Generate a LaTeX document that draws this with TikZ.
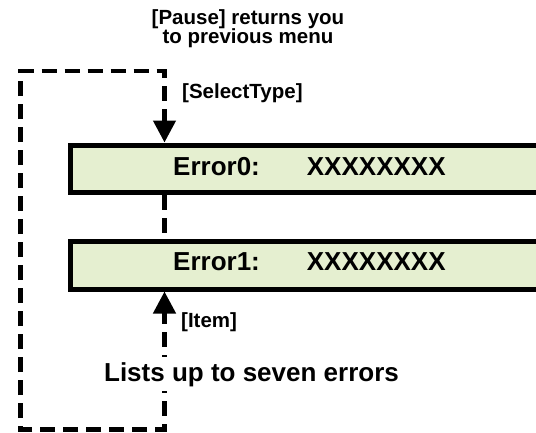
\documentclass[tikz,border=0pt]{standalone}
\usepackage{fontspec}
\setmainfont{Liberation Sans}
\usetikzlibrary{arrows.meta}
\definecolor{boxgreen}{RGB}{229,239,208}
\tikzset{
  errbox/.style={draw=black, line width=5pt, fill=boxgreen, rectangle,
    minimum width=500pt, minimum height=47.5pt, inner sep=0pt, anchor=north west},
  dashline/.style={line width=4.5pt, dash pattern=on 15pt off 8pt},
  tipline/.style={line width=4.5pt, -{Triangle[length=22pt,width=22pt]}},
  smalltxt/.style={font=\bfseries\fontsize{20.5}{19.5}\selectfont, inner sep=0pt},
  bigtxt/.style={font=\bfseries\fontsize{26}{28}\selectfont, inner sep=0pt},
}
\begin{document}
\begin{tikzpicture}[x=1pt,y=-1pt]
\useasboundingbox (0,0) rectangle (536,432);
% boxes
\node[errbox] (b1) at (67.5,142.5) {};
\node[errbox] (b2) at (67.5,239) {};
\node[bigtxt, anchor=base west] (e0l) at (173,175) {Error0:};
\node[bigtxt, anchor=base west] (e0v) at (306.7,175) {XXXXXXXX};
\node[bigtxt, anchor=base west] (e1l) at (173,270) {Error1:};
\node[bigtxt, anchor=base west] (e1v) at (306.7,270) {XXXXXXXX};
% coordinates of the loop
\coordinate (a1) at (164.5,118);
\coordinate (a2) at (164.5,309);
\coordinate (c1) at (164.5,429.5);
\coordinate (c2) at (20.5,429.5);
\coordinate (c3) at (20.5,71);
\coordinate (c4) at (164.5,71);
% dashed loop
\draw[dashline] (a2) -- (c1) -- (c2) -- (c3) -- (c4) -- (a1);
% dashed link between boxes
\draw[dashline] (a1 |- b1.south) -- (a1 |- b2.north);
% arrowheads
\draw[tipline] (a1) -- (a1 |- b1.north);
\draw[tipline] (a2) -- (a2 |- b2.south);
% labels
\node[smalltxt, align=center, anchor=base] (title) at (248,43.5) {[Pause] returns you\\to previous menu};
\node[smalltxt, anchor=base west] (sel) at (182,98) {[SelectType]};
\node[smalltxt, anchor=base west] (item) at (181,327) {[Item]};
\node[bigtxt, anchor=base, fill=white, inner xsep=2pt, inner ysep=5pt] (lists) at (251.5,381) {Lists up to seven errors};
\end{tikzpicture}
\end{document}
